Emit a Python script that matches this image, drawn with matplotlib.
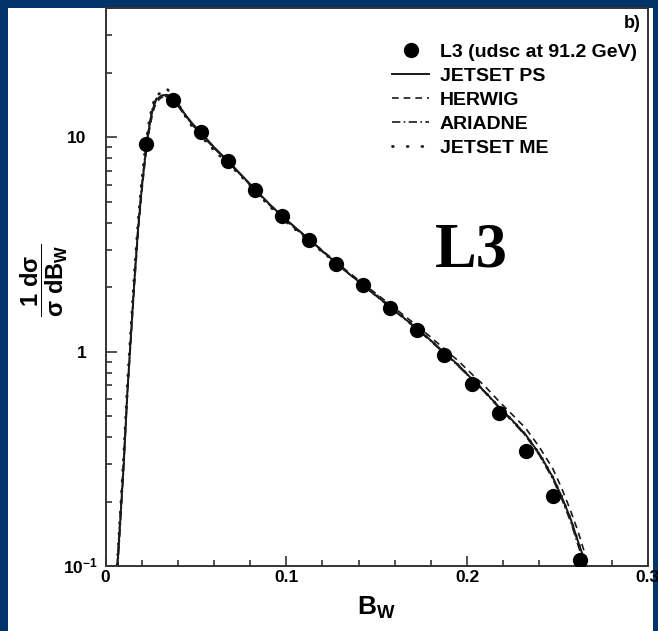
import matplotlib.pyplot as plt
from matplotlib.lines import Line2D
from matplotlib.patches import Rectangle
from matplotlib.ticker import LogLocator, MultipleLocator, NullFormatter

plt.rcParams['font.family'] = ['Liberation Sans', 'DejaVu Sans']
plt.rcParams['font.weight'] = 'bold'
plt.rcParams['mathtext.fontset'] = 'custom'
plt.rcParams['mathtext.rm'] = 'Liberation Sans:bold'
plt.rcParams['mathtext.bf'] = 'Liberation Sans:bold'
plt.rcParams['mathtext.it'] = 'Liberation Sans:bold'

# L3 data, udsc events at 91.2 GeV
bw_data = [0.0225, 0.0375, 0.0525, 0.0675, 0.0825, 0.0975, 0.1125, 0.1275, 0.1425,
           0.1575, 0.1725, 0.1875, 0.2025, 0.2175, 0.2325, 0.2475, 0.2625]
dsig_data = [9.35, 15.0, 10.6, 7.79, 5.71, 4.28, 3.31, 2.58, 2.04,
             1.60, 1.27, 0.965, 0.708, 0.519, 0.345, 0.213, 0.107]

# Monte Carlo predictions
bw_mc = [0.006, 0.008, 0.010, 0.012, 0.014, 0.016, 0.018, 0.020, 0.022, 0.024,
         0.026, 0.028, 0.031, 0.034, 0.037, 0.040, 0.044, 0.048, 0.0525, 0.060,
         0.0675, 0.075, 0.0825, 0.090, 0.0975, 0.105, 0.1125, 0.120, 0.1275, 0.135,
         0.1425, 0.150, 0.1575, 0.165, 0.1725, 0.180, 0.1875, 0.195, 0.2025, 0.210,
         0.2175, 0.225, 0.2325, 0.240, 0.2475, 0.2525, 0.2575, 0.2615, 0.2645, 0.2665,
         0.2685]
jetset_ps = [0.085, 0.16, 0.30, 0.65, 1.2, 2.2, 3.8, 5.8, 8.3, 11.0,
             13.5, 15.0, 15.7, 15.8, 15.3, 14.3, 12.8, 11.6, 10.6, 9.0,
             7.8, 6.7, 5.75, 4.95, 4.3, 3.8, 3.35, 2.95, 2.6, 2.3,
             2.05, 1.82, 1.62, 1.44, 1.28, 1.13, 0.99, 0.87, 0.75, 0.65,
             0.555, 0.48, 0.41, 0.335, 0.26, 0.21, 0.165, 0.13, 0.11, 0.098,
             0.08]
herwig = [0.09, 0.17, 0.32, 0.62, 1.15, 2.1, 3.6, 5.6, 8.0, 10.6,
          13.0, 14.6, 15.4, 15.5, 15.1, 14.2, 12.7, 11.4, 10.4, 8.9,
          7.7, 6.65, 5.7, 4.95, 4.3, 3.8, 3.35, 2.97, 2.62, 2.33,
          2.08, 1.86, 1.66, 1.48, 1.32, 1.17, 1.03, 0.91, 0.79, 0.69,
          0.59, 0.51, 0.44, 0.36, 0.285, 0.23, 0.18, 0.145, 0.12, 0.105,
          0.088]
ariadne = [0.08, 0.15, 0.29, 0.63, 1.2, 2.25, 3.9, 6.0, 8.6, 11.3,
           13.8, 15.2, 15.6, 15.5, 15.0, 14.0, 12.6, 11.5, 10.5, 8.95,
           7.75, 6.65, 5.7, 4.9, 4.25, 3.75, 3.32, 2.93, 2.6, 2.3,
           2.04, 1.81, 1.61, 1.43, 1.27, 1.12, 0.98, 0.86, 0.745, 0.645,
           0.55, 0.475, 0.405, 0.33, 0.255, 0.205, 0.16, 0.125, 0.105, 0.094,
           0.078]
jetset_me = [0.09, 0.17, 0.33, 0.7, 1.3, 2.4, 4.1, 6.3, 9.0, 11.8,
             14.2, 15.6, 16.3, 16.8, 15.8, 14.4, 12.6, 11.2, 10.2, 8.7,
             7.6, 6.6, 5.65, 4.85, 4.2, 3.72, 3.3, 2.92, 2.6, 2.31,
             2.06, 1.83, 1.63, 1.45, 1.28, 1.13, 0.99, 0.87, 0.75, 0.65,
             0.555, 0.48, 0.41, 0.335, 0.26, 0.21, 0.165, 0.13, 0.11, 0.097,
             0.08]

x_ticks = [0, 0.1, 0.2, 0.3]
x_labels = ['0', '0.1', '0.2', '0.3']

navy = '#013468'
ink = '#1a1a1a'

fig = plt.figure(figsize=(6.58, 6.31), dpi=100, facecolor=navy)
# white slide panel behind the plot
fig.patches.append(Rectangle((8 / 658, 0), 645 / 658, 1 - 8 / 631,
                             transform=fig.transFigure, facecolor='white',
                             edgecolor='none', zorder=-10))

ax = fig.add_axes([0.1606, 0.1027, 0.8237, 0.8841])
ax.set_facecolor('white')

ax.plot(bw_mc, jetset_ps, color=ink, lw=1.4, ls='-')
ax.plot(bw_mc, herwig, color=ink, lw=1.2, ls=(0, (4, 3)))
ax.plot(bw_mc, ariadne, color=ink, lw=1.2, ls=(0, (5, 2, 1, 2)))
ax.plot(bw_mc, jetset_me, color=ink, lw=2.0, ls=(0, (0.3, 3.5)),
        dash_capstyle='round')
ax.plot(bw_data, dsig_data, 'o', color='black', ms=11, mec='none', zorder=5)

ax.set_yscale('log')
ax.set_xlim(0, 0.3)
ax.set_ylim(0.1, 40)

# axes frame and ticks
for side in ax.spines.values():
    side.set_linewidth(1.4)
    side.set_color('#333333')
ax.set_xticks(x_ticks, x_labels)
ax.xaxis.set_minor_locator(MultipleLocator(0.02))
ax.set_yticks([1, 10], ['1', '10'])
ax.yaxis.set_minor_locator(LogLocator(base=10, subs=range(2, 10)))
ax.yaxis.set_minor_formatter(NullFormatter())
ax.tick_params(axis='both', which='both', direction='in', color='#333333',
               width=1.2, labelsize=12.5, top=False, right=False)
ax.tick_params(axis='y', which='major', length=8, pad=14)
ax.tick_params(axis='y', which='minor', length=4)
ax.tick_params(axis='x', which='major', length=7, pad=3)
ax.tick_params(axis='x', which='minor', length=4)

# 10^-1 label sits a bit further out than the others
ax.text(-0.015, 0.1, r'$\mathbf{10^{-1}}$', transform=ax.get_yaxis_transform(),
        ha='right', va='center', fontsize=12.5)

ax.set_xlabel(r'$\mathbf{B_W}$', fontsize=19, labelpad=7)
fig.text(0.068, 0.555, r'$\mathbf{\dfrac{1\ d\sigma}{\sigma\ dB_W}}$',
         rotation=90, ha='center', va='center', fontsize=17)

ax.text(0.987, 0.972, 'b)', transform=ax.transAxes, ha='right', va='center',
        fontsize=13)
ax.text(0.607, 0.537, 'L3', transform=ax.transAxes, ha='left', va='baseline',
        fontsize=45, fontweight='bold', family='Liberation Serif')

handles = [
    Line2D([], [], ls='none', marker='o', color='black', ms=11, mec='none'),
    Line2D([], [], color=ink, lw=1.4, ls='-'),
    Line2D([], [], color=ink, lw=1.2, ls=(0, (4, 3))),
    Line2D([], [], color=ink, lw=1.2, ls=(0, (5, 2, 1, 2))),
    Line2D([], [], color=ink, lw=2.0, ls=(0, (0.3, 5)), dash_capstyle='round'),
]
names = ['L3 (udsc at 91.2 GeV)', 'JETSET PS', 'HERWIG', 'ARIADNE', 'JETSET ME']
ax.legend(handles, names, loc='upper right', bbox_to_anchor=(0.980, 0.937),
          frameon=False, fontsize=14, handlelength=1.9, handletextpad=0.55,
          labelspacing=0.33, borderaxespad=0, borderpad=0)

fig.savefig('out.png', dpi=100, facecolor=navy)
